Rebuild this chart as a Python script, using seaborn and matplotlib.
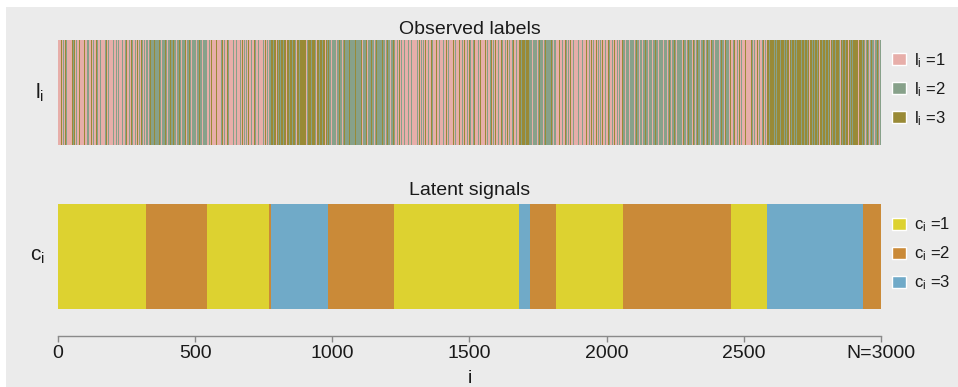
import numpy as np
import matplotlib
matplotlib.use("Agg")
import matplotlib.pyplot as plt
import seaborn as sns
from matplotlib.colors import ListedColormap
from matplotlib.patches import Patch, Rectangle

# ---------------- data ----------------
N = 3000
# latent signal segments: boundaries (index) and state of each segment
latent_bounds = [0, 322, 545, 770, 777, 985, 1225, 1682, 1720, 1815, 2060, 2453, 2585, 2935, 3000]
latent_states = [1, 2, 1, 2, 3, 2, 1, 3, 2, 1, 2, 1, 3, 2]

# observed labels, read as blocks of 3 consecutive indices
# p -> l=1, g -> l=2, o -> l=3
obs_block = 3
obs_segments = [
    "ppgpopgppo gppgpppogp opgppgoppp gpoppgpgpp oppgppopgp pgpopppgop pgppoppgpp ogpgppopgp ppgoppgppo gpppgpoppg pogppgp",
    "gggpgoggpg ogggpgogpg gggoggpggo gpgogggpgg oggpgggogp ggoggpgggo gpggogggpg ogggp",
    "ppgpoppgpp opgpppgopp gppopgpppo pgppgopppg ppopgppgpo pppgppopgp pgpopppgpp opgpp",
    "gg",
    "oogooopogo ogooogoopo oogoogooog pooogoogoo oopogoooog ooogopoogo oogooopogo",
    "gggpggoggp gggoggpggo gggpgogggp ggoggpgggo gpgggogpgg gogggpggog gggpgoggpg gogggpggog",
    "pppgpoppgp pogpppgopp gppopppgpp opgppgpopp pgppopgppp ogppgpoppg pppopgppgp poppgpppog "
    "ppgpopppgp pogppgpopp pgppoppgpp opgpppgopp gpopppgppo pgppgppopg pppgopppgp po",
    "oogoooogooogo",
    "ggpgogggpg gogggpggog gpgggoggpg g",
    "ppgpopppgp pogppgpopp pgppoppgpp opgpppgopp gppopgpppo pgppgpoppp gppopgppgp poppgppgpp op",
    "ggpgoggpgg oggpgogggp gogpggoggg pggogpgggo ggpgogggpg oggpggogpg ggogpggogg gpgoggpggo "
    "gggpgogpgg oggpgggogp ggoggpgogg pgogggpggo ggpgogggpg o",
    "ppgpoppgpp opgppgpopp gpppogppgp poppgpppgo pgpp",
    "oogoopoogo ogooogpooo googoopoog oogoogoopo ogooogoogo opoogoogoo goopoogooo gooogopoog "
    "oogoooogpo ogoogooopo googoogooo pogoogo",
    "ggpgoggpgo gggpggoggp g",
]
obs_code = {"p": 1, "g": 2, "o": 3}

obs_legend = ["$\\mathregular{l_i}$ =1", "$\\mathregular{l_i}$ =2", "$\\mathregular{l_i}$ =3"]
lat_legend = ["$\\mathregular{c_i}$ =1", "$\\mathregular{c_i}$ =2", "$\\mathregular{c_i}$ =3"]
xtick_values = [0, 500, 1000, 1500, 2000, 2500, 3000]
xtick_labels = ["0", "500", "1000", "1500", "2000", "2500", "N=3000"]

obs_colors = ["#E7AEA9", "#87A18A", "#998A36"]
lat_colors = ["#DDD230", "#CA8A38", "#70AAC8"]

# ---------------- build arrays ----------------
obs_chars = "".join("".join(s.split()) for s in obs_segments)
observed = np.repeat([obs_code[c] for c in obs_chars], obs_block)
if len(observed) < N:
    observed = np.concatenate([observed, np.full(N - len(observed), observed[-1])])
observed = observed[:N]
latent = np.repeat(latent_states, np.diff(latent_bounds))

# ---------------- style ----------------
sns.set_style("white")
plt.rcParams["font.family"] = ["Liberation Sans", "DejaVu Sans"]
plt.rcParams["mathtext.fontset"] = "custom"
plt.rcParams["mathtext.rm"] = "Liberation Sans"
plt.rcParams["mathtext.it"] = "Liberation Sans:italic"
txt = "#1a1a1a"
bg = "#EBEBEB"

fig = plt.figure(figsize=(9.58, 3.87), dpi=100)
fig.patch.set_facecolor("white")
fig.patches.append(Rectangle((0.00626, 0), 0.99374, 0.9819, transform=fig.transFigure,
                             facecolor=bg, edgecolor="none", zorder=-10))

ax1 = fig.add_axes([0.0605, 0.6253, 0.8591, 0.2713])
ax2 = fig.add_axes([0.0605, 0.2016, 0.8591, 0.2713])

sns.heatmap(observed[None, :], ax=ax1, cmap=ListedColormap(obs_colors), vmin=0.5, vmax=3.5,
            cbar=False, xticklabels=False, yticklabels=False, antialiased=True)
sns.heatmap(latent[None, :], ax=ax2, cmap=ListedColormap(lat_colors), vmin=0.5, vmax=3.5,
            cbar=False, xticklabels=False, yticklabels=False, rasterized=True)

for ax in (ax1, ax2):
    ax.set_facecolor(bg)
    ax.set_xlim(0, N)
    ax.set_yticks([])

ax1.set_xticks([])
ax1.set_title("Observed labels", fontsize=14, color=txt, pad=4.5)
ax2.set_title("Latent signals", fontsize=14, color=txt, pad=6.5)
ax1.set_ylabel("$\\mathregular{l_i}$", fontsize=15, rotation=0, va="center", ha="right",
               labelpad=10, color=txt)
ax2.set_ylabel("$\\mathregular{c_i}$", fontsize=15, rotation=0, va="center", ha="right",
               labelpad=9, color=txt)

ax2.set_xticks(xtick_values)
ax2.set_xticklabels(xtick_labels, rotation=0)
ax2.spines["bottom"].set_visible(True)
ax2.spines["bottom"].set_position(("outward", 19.4))
ax2.spines["bottom"].set_color("#8a8a8a")
ax2.spines["bottom"].set_linewidth(1.0)
ax2.tick_params(axis="x", bottom=True, length=4.5, width=1.0, color="#8a8a8a", pad=2,
                labelsize=14, labelcolor=txt)
ax2.set_xlabel("i", fontsize=14, color=txt, labelpad=6)

leg_kw = dict(loc="center left", frameon=False, fontsize=12, handlelength=0.8,
              handleheight=0.7, handletextpad=0.5, labelspacing=0.62, borderpad=0,
              borderaxespad=0, labelcolor=txt)
ax1.legend(handles=[Patch(facecolor=c, label=l) for c, l in zip(obs_colors, obs_legend)],
           bbox_to_anchor=(1.014, 0.53), **leg_kw)
ax2.legend(handles=[Patch(facecolor=c, label=l) for c, l in zip(lat_colors, lat_legend)],
           bbox_to_anchor=(1.014, 0.524), **leg_kw)

fig.savefig("out.png", dpi=100, facecolor=fig.get_facecolor())
